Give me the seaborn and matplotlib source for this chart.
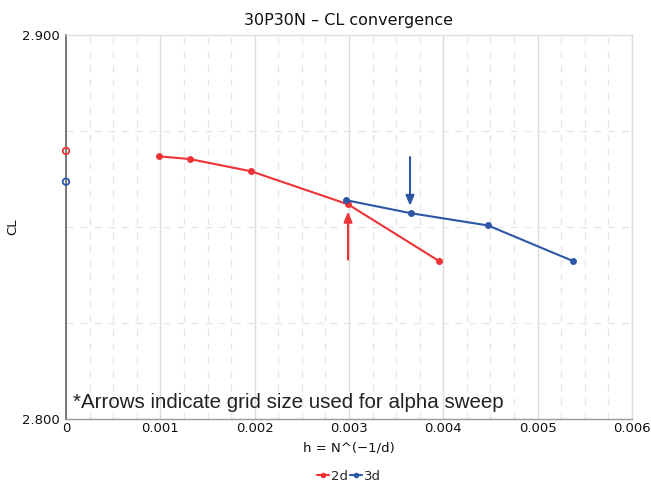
import numpy as np
import pandas as pd
import matplotlib
matplotlib.use("Agg")
import matplotlib.pyplot as plt
from matplotlib.ticker import MultipleLocator, FixedLocator
from matplotlib.lines import Line2D
import seaborn as sns

# ---- data ----
h_2d = [0.000986, 0.001311, 0.001964, 0.00299, 0.003957]
cl_2d = [2.8684, 2.8677, 2.8645, 2.8559, 2.8411]
h_3d = [0.002965, 0.003654, 0.004474, 0.005378]
cl_3d = [2.8570, 2.8536, 2.8504, 2.8411]
extrap_h = [0.0, 0.0]
extrap_cl = [2.8698, 2.8618]
extrap_series = ["2d", "3d"]
arrow_x = [0.00299, 0.003647]
arrow_from = [2.8415, 2.8682]
arrow_to = [2.8540, 2.8555]
series_names = ["2d", "3d"]
x_ticks = [0, 0.001, 0.002, 0.003, 0.004, 0.005, 0.006]
x_tick_labels = ["0", "0.001", "0.002", "0.003", "0.004", "0.005", "0.006"]
y_ticks = [2.800, 2.900]
y_tick_labels = ["2.800", "2.900"]

RED = "#ee3236"
BLUE = "#2c57a6"
palette = {"2d": RED, "3d": BLUE}

df = pd.DataFrame({
    "h": h_2d + h_3d,
    "CL": cl_2d + cl_3d,
    "grid": ["2d"] * len(h_2d) + ["3d"] * len(h_3d),
})
df_ext = pd.DataFrame({"h": extrap_h, "CL": extrap_cl, "grid": extrap_series})

sns.set_style("white")
plt.rcParams["font.family"] = ["DejaVu Sans"]

fig = plt.figure(figsize=(6.51, 4.83), dpi=100)
ax = fig.add_axes([66 / 651, 1 - 419 / 483, (632 - 66) / 651, (419 - 35) / 483])

# grid
ax.set_xlim(0, 0.006)
ax.set_ylim(2.8, 2.9)
ax.xaxis.set_major_locator(FixedLocator(x_ticks))
ax.xaxis.set_minor_locator(MultipleLocator(0.00025))
ax.yaxis.set_major_locator(FixedLocator(y_ticks))
ax.yaxis.set_minor_locator(FixedLocator([2.825, 2.85, 2.875]))
ax.grid(which="major", axis="x", color="#dcdcdc", lw=1.0, ls="-")
ax.grid(which="minor", axis="x", color="#e6e6e6", lw=1.0, ls=(0, (5, 5)))
ax.grid(which="minor", axis="y", color="#e6e6e6", lw=1.0, ls=(0, (5, 5)))
ax.set_axisbelow(True)

sns.lineplot(data=df, x="h", y="CL", hue="grid", palette=palette, marker="o",
             markersize=5, markeredgewidth=0, lw=1.5, sort=False, ax=ax,
             legend=False, zorder=3)
sns.scatterplot(data=df_ext, x="h", y="CL", hue="grid", palette=palette,
                s=22, facecolor="none", linewidth=1.3, ax=ax, legend=False,
                zorder=4, clip_on=False)
for coll in ax.collections:
    coll.set_facecolor("none")
    coll.set_edgecolor([palette[g] for g in extrap_series])

# arrows
for xa, y0, y1, c in zip(arrow_x, arrow_from, arrow_to, [RED, BLUE]):
    ax.annotate("", xy=(xa, y1), xytext=(xa, y0),
                arrowprops=dict(arrowstyle="-|>,head_length=0.6,head_width=0.25",
                                color=c, lw=1.5, shrinkA=0, shrinkB=0), zorder=5)

ax.text(0.00007, 2.8044, "*Arrows indicate grid size used for alpha sweep",
        fontsize=14.8, family="Liberation Sans", color="#222222", va="center",
        ha="left")

# spines
for s in ["top", "right"]:
    ax.spines[s].set_color("#dddddd")
    ax.spines[s].set_linewidth(1.0)
ax.spines["left"].set_color("#707070")
ax.spines["left"].set_linewidth(1.3)
ax.spines["bottom"].set_color("#999999")
ax.spines["bottom"].set_linewidth(1.0)

ax.set_xticklabels(x_tick_labels)
ax.set_yticklabels(y_tick_labels)
ax.tick_params(axis="both", which="major", labelsize=9.5, colors="#888888",
               labelcolor="#111111", length=4, width=1, direction="out", pad=2)
ax.tick_params(axis="both", which="minor", colors="#999999", length=3, width=0.8)
ax.tick_params(axis="x", which="major", length=0)
ax.tick_params(axis="y", which="major", length=4, pad=0.5)

ax.set_title("30P30N \u2013 CL convergence", fontsize=11.5, color="#111111", pad=7)
ax.set_xlabel("h = N^(\u22121/d)", fontsize=9.5, color="#111111", labelpad=5)
ax.set_ylabel("CL", fontsize=9.5, color="#111111")
ax.yaxis.set_label_coords((19 - 66) / 566, 0.5)

handles = [Line2D([0], [0], color=palette[n], marker="o", markersize=4,
                  markeredgewidth=0, lw=1.5) for n in series_names]
fig.legend(handles, series_names, loc="center",
           bbox_to_anchor=(349 / 651, 1 - 476 / 483),
           ncol=2, frameon=False, fontsize=9.5, handlelength=0.9,
           handletextpad=0.15, columnspacing=0.15, borderpad=0)

fig.savefig("out.png", dpi=100)
